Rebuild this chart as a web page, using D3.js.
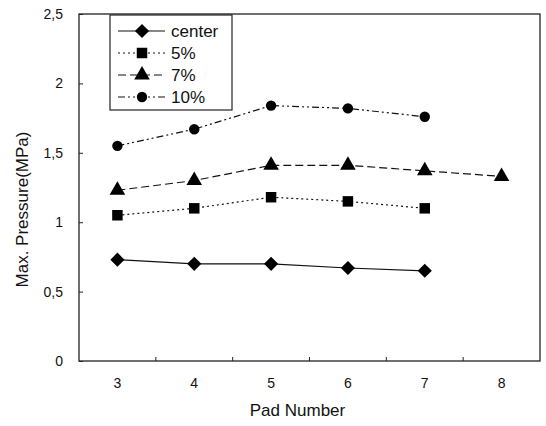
<!DOCTYPE html>
<html>
<head>
<meta charset="utf-8">
<script src="https://cdn.jsdelivr.net/npm/d3@7"></script>
<style>
  body { margin: 0; background: #fff; }
  text { font-family: "Liberation Sans", Arial, sans-serif; fill: #111; }
</style>
</head>
<body>
<svg id="chart" width="546" height="426"></svg>
<script>
const pads = ['3', '4', '5', '6', '7', '8'];
const center = [0.73, 0.70, 0.70, 0.67, 0.65];
const pct5 = [1.05, 1.10, 1.18, 1.15, 1.10];
const pct7 = [1.23, 1.30, 1.41, 1.41, 1.37, 1.33];
const pct10 = [1.55, 1.67, 1.84, 1.82, 1.76];
const yTicks = [0, 0.5, 1, 1.5, 2, 2.5];

// diamond = square turned 45 degrees
const seriesList = [
  {name: 'center', values: center, dash: null, symbol: d3.symbolSquare, size: 100, rot: 45},
  {name: '5%', values: pct5, dash: '2,3', symbol: d3.symbolSquare, size: 110, rot: 0},
  {name: '7%', values: pct7, dash: '8,4', symbol: d3.symbolTriangle, size: 105, rot: 0},
  {name: '10%', values: pct10, dash: '7,3,2,3,2,3', symbol: d3.symbolCircle, size: 85, rot: 0}
];

const margin = {left: 79, top: 14, right: 6, bottom: 65};
const width = 546, height = 426;
const innerWidth = width - margin.left - margin.right;
const innerHeight = height - margin.top - margin.bottom;

const svg = d3.select('#chart');
const g = svg.append('g')
  .attr('transform', `translate(${margin.left},${margin.top})`);

const xScale = d3.scaleBand()
  .domain(pads)
  .range([0, innerWidth]);

const yScale = d3.scaleLinear()
  .domain([0, 2.5])
  .range([innerHeight, 0]);

// frame
g.append('rect')
  .attr('width', innerWidth)
  .attr('height', innerHeight)
  .attr('fill', 'none')
  .attr('stroke', '#222')
  .attr('stroke-width', 1.3);

// y axis, inward ticks
const yAxis = d3.axisLeft(yScale)
  .tickValues(yTicks)
  .tickSize(-4)
  .tickPadding(16)
  .tickFormat(d => d3.format('.1~f')(d).replace('.', ','));

const yAxisG = g.append('g').call(yAxis);
yAxisG.select('.domain').remove();
yAxisG.selectAll('.tick line').attr('stroke', '#222');
yAxisG.selectAll('text').attr('font-size', 14).attr('fill', '#222');

// x axis: ticks at band boundaries, labels at centers
const xAxisG = g.append('g')
  .attr('transform', `translate(0,${innerHeight})`);

xAxisG.selectAll('.tick')
  .data(pads.slice(1))
  .enter().append('line')
  .attr('x1', d => xScale(d))
  .attr('x2', d => xScale(d))
  .attr('y1', 0)
  .attr('y2', -4)
  .attr('stroke', '#222');

xAxisG.selectAll('.label')
  .data(pads)
  .enter().append('text')
  .attr('x', d => xScale(d) + xScale.bandwidth() / 2)
  .attr('y', 27)
  .attr('text-anchor', 'middle')
  .attr('font-size', 14)
  .attr('fill', '#222')
  .text(d => d);

// axis titles
g.append('text')
  .attr('x', innerWidth / 2 - 12)
  .attr('y', innerHeight + 55)
  .attr('text-anchor', 'middle')
  .attr('font-size', 17)
  .text('Pad Number');

g.append('text')
  .attr('transform', 'rotate(-90)')
  .attr('x', -innerHeight / 2 - 22)
  .attr('y', -51)
  .attr('text-anchor', 'middle')
  .attr('font-size', 17)
  .text('Max. Pressure(MPa)');

// series
const line = d3.line()
  .x((d, i) => xScale(pads[i]) + xScale.bandwidth() / 2)
  .y(d => yScale(d));

seriesList.forEach(s => {
  g.append('path')
    .datum(s.values)
    .attr('d', line)
    .attr('fill', 'none')
    .attr('stroke', '#111')
    .attr('stroke-width', 1.2)
    .attr('stroke-dasharray', s.dash);

  g.selectAll(null)
    .data(s.values)
    .enter().append('path')
    .attr('d', d3.symbol().type(s.symbol).size(s.size))
    .attr('transform', (d, i) =>
      `translate(${xScale(pads[i]) + xScale.bandwidth() / 2},${yScale(d)}) rotate(${s.rot})`)
    .attr('fill', '#000');
});

// legend
const legend = svg.append('g').attr('transform', 'translate(110,15)');
legend.append('rect')
  .attr('width', 122)
  .attr('height', 95)
  .attr('fill', '#fff')
  .attr('stroke', '#222')
  .attr('stroke-width', 1.2);

const legendItem = legend.selectAll('.item')
  .data(seriesList)
  .enter().append('g')
  .attr('transform', (d, i) => `translate(0,${16 + i * 22})`);

legendItem.append('line')
  .attr('x1', 8)
  .attr('x2', 55)
  .attr('stroke', '#111')
  .attr('stroke-width', 1.2)
  .attr('stroke-dasharray', d => d.dash);

legendItem.append('path')
  .attr('d', d => d3.symbol().type(d.symbol).size(d.size)())
  .attr('transform', d => `translate(32,0) rotate(${d.rot})`)
  .attr('fill', '#000');

legendItem.append('text')
  .attr('x', 61)
  .attr('y', 6)
  .attr('font-size', 17)
  .text(d => d.name);
</script>
</body>
</html>
